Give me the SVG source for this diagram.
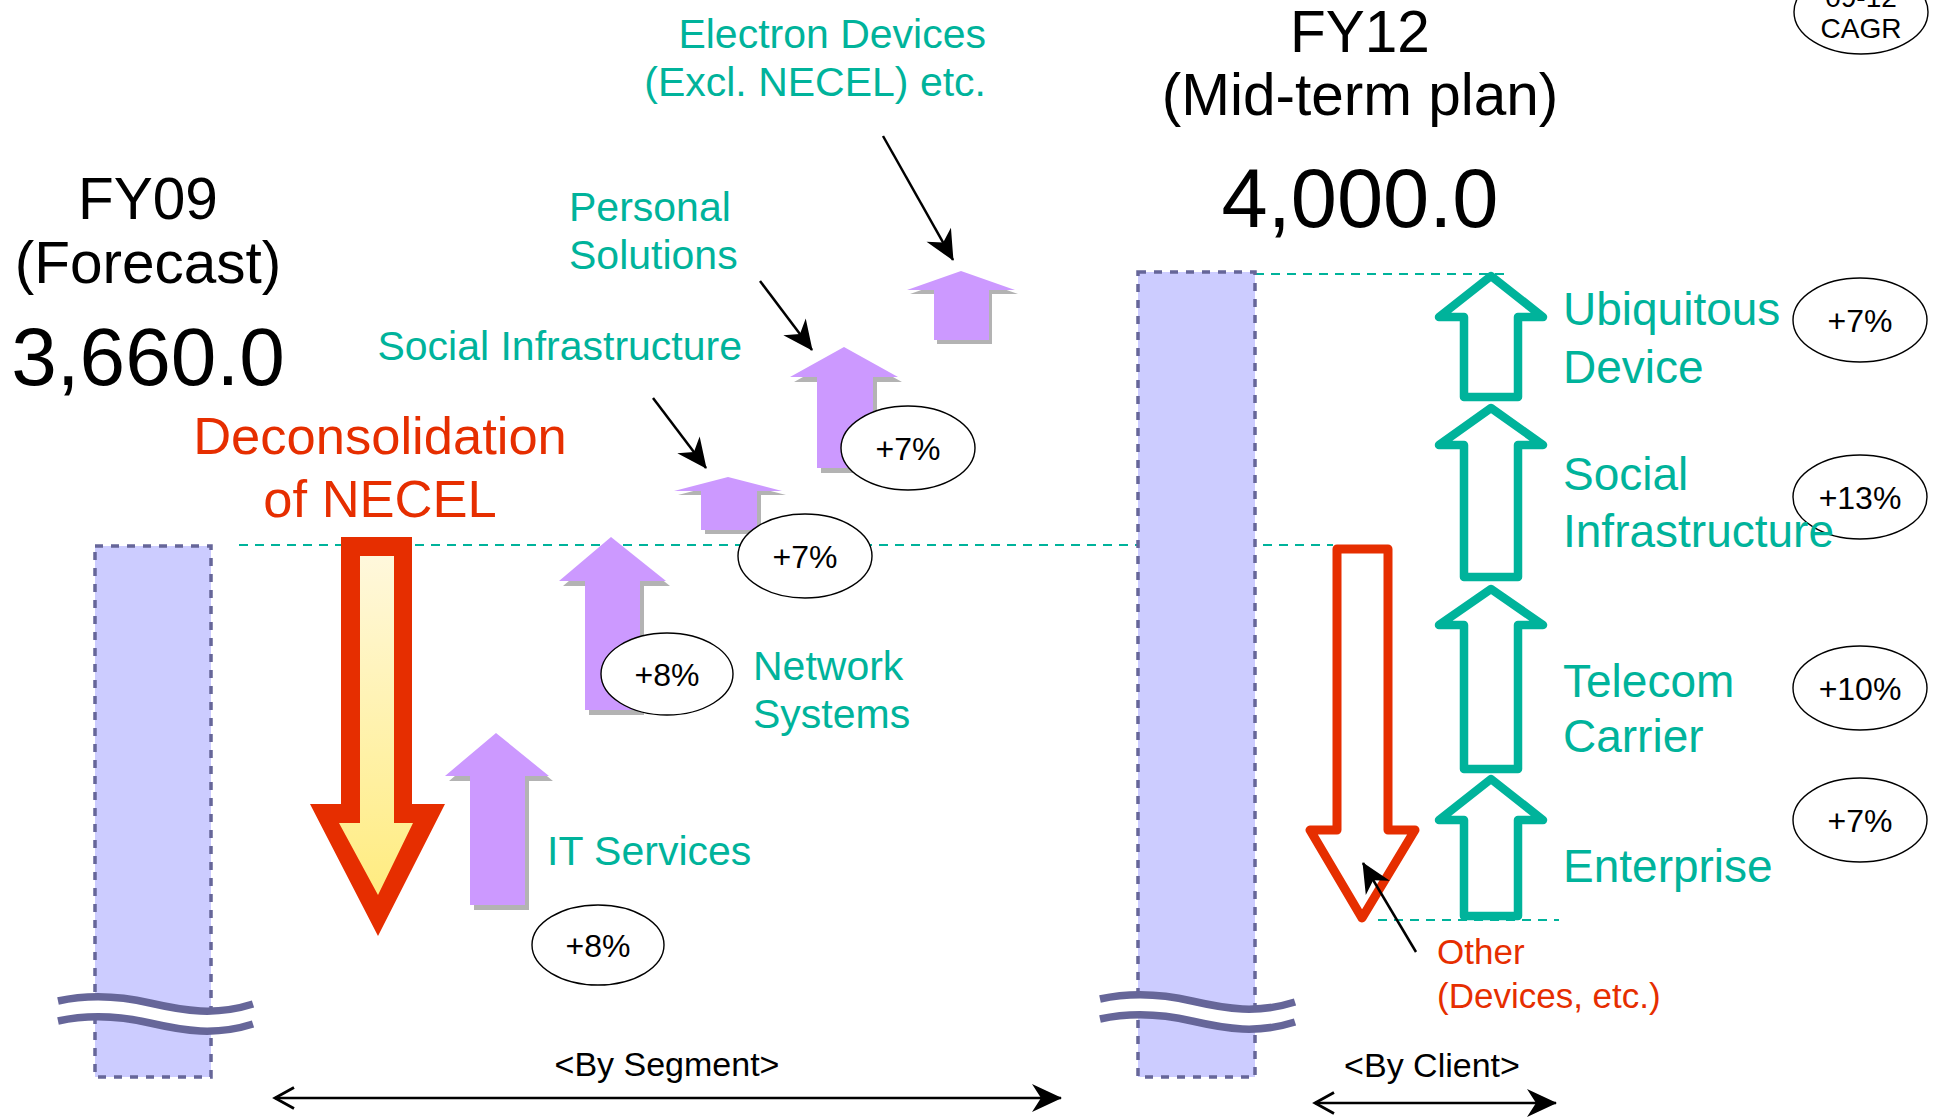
<svg xmlns="http://www.w3.org/2000/svg" width="1937" height="1117" viewBox="0 0 1937 1117">
<style>
text{font-family:"Liberation Sans",Arial,sans-serif}
.blk{fill:#000}
.teal{fill:#00b39b}
.red{fill:#e62e00}
.bar{fill:#ccccff;stroke:#666699;stroke-width:3.5;stroke-dasharray:8 8}
.dash{stroke:#00b39b;stroke-width:2;stroke-dasharray:9 7;fill:none}
.wave{fill:none;stroke:#666699;stroke-width:7.5}
.gap{fill:none;stroke:#fff;stroke-width:14}
.pur{fill:#cc99ff}
.shd{fill:#b3b3b3}
.ell{fill:#fff;stroke:#000;stroke-width:1.4}
.pct{font-size:32px;text-anchor:middle}
.hol{fill:#fff;stroke:#00b39b;stroke-width:8.5;stroke-linejoin:round}
.ptr{stroke:#000;stroke-width:2.5;fill:none}
.lbl{font-size:41px}
.rl{font-size:46px}
</style>
<defs>
<linearGradient id="yg" x1="0" y1="0" x2="0" y2="1">
<stop offset="0" stop-color="#fff8dc"/>
<stop offset="1" stop-color="#ffec80"/>
</linearGradient>
<marker id="stealth" markerUnits="userSpaceOnUse" viewBox="0 0 30 28" refX="29" refY="14" markerWidth="30" markerHeight="28" orient="auto" overflow="visible">
<path d="M0,0 L30,14 L0,28 L9,14 Z" fill="#000"/>
</marker>
<marker id="chev" markerUnits="userSpaceOnUse" viewBox="0 0 22 24" refX="20" refY="12" markerWidth="22" markerHeight="24" orient="auto-start-reverse" overflow="visible">
<path d="M1,1.5 L20,12 L1,22.5" fill="none" stroke="#000" stroke-width="2.8"/>
</marker>
<path id="wv" d="M58,1001 C90,994 120,996 150,1003 C185,1011 215,1016 253,1004"/>
</defs>

<!-- guide lines -->
<g id="guides">
<line class="dash" x1="239" y1="545" x2="1333" y2="545"/>
<line class="dash" x1="1255" y1="274" x2="1507" y2="274"/>
<line class="dash" x1="1378" y1="920" x2="1559" y2="920"/>
</g>

<!-- bars -->
<g id="bar-fy09">
<rect class="bar" x="95" y="546" width="116" height="531"/>
<g>
<use href="#wv" class="gap" transform="translate(0,10)"/>
<use href="#wv" class="wave"/>
<use href="#wv" class="wave" transform="translate(0,20)"/>
</g>
</g>
<g id="bar-fy12">
<rect class="bar" x="1138" y="272" width="117" height="805"/>
<g transform="translate(1042,-2)">
<use href="#wv" class="gap" transform="translate(0,10)"/>
<use href="#wv" class="wave"/>
<use href="#wv" class="wave" transform="translate(0,20)"/>
</g>
</g>

<!-- titles -->
<g id="title-fy09">
<text class="blk" x="148" y="219" font-size="58.5" text-anchor="middle">FY09</text>
<text class="blk" x="148" y="283" font-size="58.5" text-anchor="middle">(Forecast)</text>
<text class="blk" x="148" y="385" font-size="82" text-anchor="middle">3,660.0</text>
</g>
<g id="title-fy12">
<text class="blk" x="1360" y="52" font-size="58.5" text-anchor="middle">FY12</text>
<text class="blk" x="1360" y="115" font-size="58.5" text-anchor="middle">(Mid-term plan)</text>
<text class="blk" x="1360" y="227" font-size="83" text-anchor="middle">4,000.0</text>
</g>

<!-- NECEL deconsolidation -->
<g id="necel">
<polygon points="341,537 412,537 412,804 445,804 378,936 310,804 341,804" fill="#e62e00"/>
<polygon points="360,556 394,556 394,823 413,823 378,895 339,823 360,823" fill="url(#yg)"/>
<text class="red" x="380" y="454" font-size="52.5" text-anchor="middle">Deconsolidation</text>
<text class="red" x="380" y="517" font-size="52.5" text-anchor="middle">of NECEL</text>
</g>

<!-- segment arrows -->
<g id="seg-it">
<polygon class="shd" transform="translate(4,5)" points="496,733 549,776 525,776 525,905 470,905 470,776 445,776"/>
<polygon class="pur" points="496,733 549,776 525,776 525,905 470,905 470,776 445,776"/>
</g>
<g id="seg-network">
<polygon class="shd" transform="translate(4,5)" points="611,537 666,581 640,581 640,710 585,710 585,581 559,581"/>
<polygon class="pur" points="611,537 666,581 640,581 640,710 585,710 585,581 559,581"/>
</g>
<g id="seg-social">
<polygon class="shd" transform="translate(4,4)" points="728,477 782,491 757,491 757,530 701,530 701,491 674,491"/>
<polygon class="pur" points="728,477 782,491 757,491 757,530 701,530 701,491 674,491"/>
</g>
<g id="seg-personal">
<polygon class="shd" transform="translate(4,5)" points="844,347 898,377 873,377 873,468 817,468 817,377 790,377"/>
<polygon class="pur" points="844,347 898,377 873,377 873,468 817,468 817,377 790,377"/>
</g>
<g id="seg-electron">
<polygon class="shd" transform="translate(3,4)" points="961,271 1015,290 989,290 989,340 934,340 934,290 907,290"/>
<polygon class="pur" points="961,271 1015,290 989,290 989,340 934,340 934,290 907,290"/>
</g>

<!-- client arrows -->
<g id="cl-ubiq"><polygon class="hol" points="1491,276 1543,317 1518,317 1518,397 1464,397 1464,317 1439,317"/></g>
<g id="cl-social"><polygon class="hol" points="1491,408 1543,445 1518,445 1518,577 1464,577 1464,445 1439,445"/></g>
<g id="cl-telecom"><polygon class="hol" points="1491,589 1543,625 1518,625 1518,769 1464,769 1464,625 1439,625"/></g>
<g id="cl-enterprise"><polygon class="hol" points="1491,779 1543,820 1518,820 1518,916 1464,916 1464,820 1439,820"/></g>
<g id="cl-other"><polygon points="1337,549 1388,549 1388,830 1415,830 1362,918 1310,830 1337,830" fill="#fff" stroke="#e62e00" stroke-width="9" stroke-linejoin="round"/></g>

<!-- CAGR ellipses -->
<g id="cagr-head">
<ellipse class="ell" cx="1861" cy="12" rx="67" ry="42"/>
<text class="blk" x="1861" y="7" font-size="28" text-anchor="middle">09-12</text>
<text class="blk" x="1861" y="38" font-size="28" text-anchor="middle">CAGR</text>
</g>
<g id="pct-personal"><ellipse class="ell" cx="908" cy="448" rx="67" ry="42"/><text class="blk pct" x="908" y="460">+7%</text></g>
<g id="pct-social"><ellipse class="ell" cx="805" cy="556" rx="67" ry="42"/><text class="blk pct" x="805" y="568">+7%</text></g>
<g id="pct-network"><ellipse class="ell" cx="667" cy="674" rx="66" ry="41"/><text class="blk pct" x="667" y="686">+8%</text></g>
<g id="pct-it"><ellipse class="ell" cx="598" cy="945" rx="66" ry="40"/><text class="blk pct" x="598" y="957">+8%</text></g>
<g id="pct-ubiq"><ellipse class="ell" cx="1860" cy="320" rx="67" ry="42"/><text class="blk pct" x="1860" y="332">+7%</text></g>
<g id="pct-socialinfra"><ellipse class="ell" cx="1860" cy="497" rx="67" ry="42"/><text class="blk pct" x="1860" y="509">+13%</text></g>
<g id="pct-telecom"><ellipse class="ell" cx="1860" cy="688" rx="67" ry="42"/><text class="blk pct" x="1860" y="700">+10%</text></g>
<g id="pct-enterprise"><ellipse class="ell" cx="1860" cy="820" rx="67" ry="42"/><text class="blk pct" x="1860" y="832">+7%</text></g>

<!-- labels -->
<g id="labels">
<text class="teal lbl" x="986" y="48" text-anchor="end">Electron Devices</text>
<text class="teal lbl" x="986" y="96" text-anchor="end">(Excl. NECEL) etc.</text>
<text class="teal lbl" x="569" y="221">Personal</text>
<text class="teal lbl" x="569" y="269">Solutions</text>
<text class="teal lbl" x="742" y="360" text-anchor="end">Social Infrastructure</text>
<text class="teal lbl" x="753" y="680">Network</text>
<text class="teal lbl" x="753" y="728">Systems</text>
<text class="teal lbl" x="547" y="865">IT Services</text>
<text class="teal rl" x="1563" y="325">Ubiquitous</text>
<text class="teal rl" x="1563" y="383">Device</text>
<text class="teal rl" x="1563" y="490">Social</text>
<text class="teal rl" x="1563" y="547">Infrastructure</text>
<text class="teal rl" x="1563" y="697">Telecom</text>
<text class="teal rl" x="1563" y="752">Carrier</text>
<text class="teal rl" x="1563" y="882">Enterprise</text>
<text class="red" x="1437" y="964" font-size="35">Other</text>
<text class="red" x="1437" y="1008" font-size="35">(Devices, etc.)</text>
<text class="blk" x="667" y="1076" font-size="34" text-anchor="middle">&lt;By Segment&gt;</text>
<text class="blk" x="1432" y="1077" font-size="34" text-anchor="middle">&lt;By Client&gt;</text>
</g>

<!-- connectors -->
<g id="connectors">
<line class="ptr" x1="883" y1="136" x2="953" y2="260" marker-end="url(#stealth)"/>
<line class="ptr" x1="760" y1="281" x2="812" y2="350" marker-end="url(#stealth)"/>
<line class="ptr" x1="653" y1="398" x2="706" y2="468" marker-end="url(#stealth)"/>
<line class="ptr" x1="1416" y1="952" x2="1363" y2="863" marker-end="url(#stealth)"/>
<line class="ptr" x1="275" y1="1098" x2="1061" y2="1098" marker-start="url(#chev)" marker-end="url(#stealth)"/>
<line class="ptr" x1="1315" y1="1103" x2="1556" y2="1103" marker-start="url(#chev)" marker-end="url(#stealth)"/>
</g>
</svg>
